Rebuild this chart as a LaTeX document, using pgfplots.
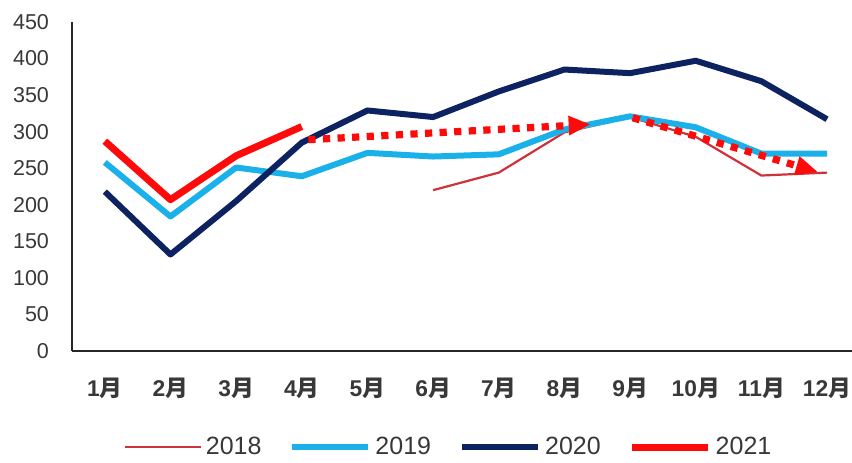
\documentclass[border=0pt]{standalone}
\usepackage{fontspec}
\setmainfont{Liberation Sans}
\newfontfamily\cjk{Noto Sans CJK SC}
\usepackage{pgfplots}
\pgfplotsset{compat=1.18}
\usetikzlibrary{arrows.meta}
\definecolor{c18}{HTML}{D0323C}
\definecolor{c19}{HTML}{1AB0EA}
\definecolor{c20}{HTML}{0D2260}
\definecolor{c21}{HTML}{FF0A0A}
\newcommand{\M}[1]{\textbf{#1}{\cjk\bfseries 月}}
\begin{document}
\begin{tikzpicture}
\begin{axis}[
  name=ax,
  scale only axis,
  width=390pt, height=164.5pt,
  xmin=-0.5, xmax=11.38,
  ymin=0, ymax=450,
  ytick={0,50,...,450},
  xtick={0,...,11},
  xticklabels={\M{1},\M{2},\M{3},\M{4},\M{5},\M{6},\M{7},\M{8},\M{9},\M{10},\M{11},\M{12}},
  axis x line=bottom, axis y line=left,
  axis line style={-, line width=1pt, black!85},
  major tick length=0pt,
  tick label style={font=\fontsize{10.75}{12}\selectfont, text=black!78},
  xticklabel style={font=\fontsize{11.4}{13}\selectfont, yshift=-10pt},
  /pgf/number format/assume math mode=true,
  yticklabel style={xshift=-8pt},
  legend columns=4,
  legend style={draw=none, fill=none, at={(axis description cs:0.484,-0.292)}, anchor=center,
    font=\fontsize{12.5}{14}\selectfont, text=black!78,
    /tikz/every even column/.append style={column sep=12pt}},
  legend image code/.code={\draw[#1] (0pt,0pt) -- (38pt,0pt);},
  every axis plot/.append style={line join=round},
]
\addplot[c18, line width=1.1pt] coordinates {(5,220) (6,244) (7,299) (8,320) (9,293) (10,240) (11,244)};
\addlegendentry{2018}
\addplot[c19, line width=3pt] coordinates {(0,258) (1,184) (2,251) (3,239) (4,271) (5,266) (6,269) (7,303) (8,321) (9,306) (10,270) (11,270)};
\addlegendentry{2019}
\addplot[c20, line width=3pt] coordinates {(0,218) (1,132) (2,205) (3,285) (4,329) (5,320) (6,355) (7,385) (8,380) (9,397) (10,369) (11,317)};
\addlegendentry{2020}
\addplot[c21, line width=3.5pt] coordinates {(0,287) (1,207) (2,267) (3,307)};
\addlegendentry{2021}
\addplot[c21, line width=3.6pt, line cap=butt, dash pattern=on 3.6pt off 3.7pt, -{Triangle[length=11pt,width=9pt]}, forget plot] coordinates {(3.1,289) (7.4,310)};
\addplot[c21, line width=3.6pt, line cap=butt, dash pattern=on 3.6pt off 3.7pt, -{Triangle[length=11pt,width=9pt]}, forget plot] coordinates {(8.04,319) (10.86,245)};
\end{axis}
\pgfresetboundingbox
\path ([xshift=-36pt,yshift=11pt]ax.north west) rectangle ([yshift=-55.5pt]ax.south east);
\end{tikzpicture}
\end{document}
